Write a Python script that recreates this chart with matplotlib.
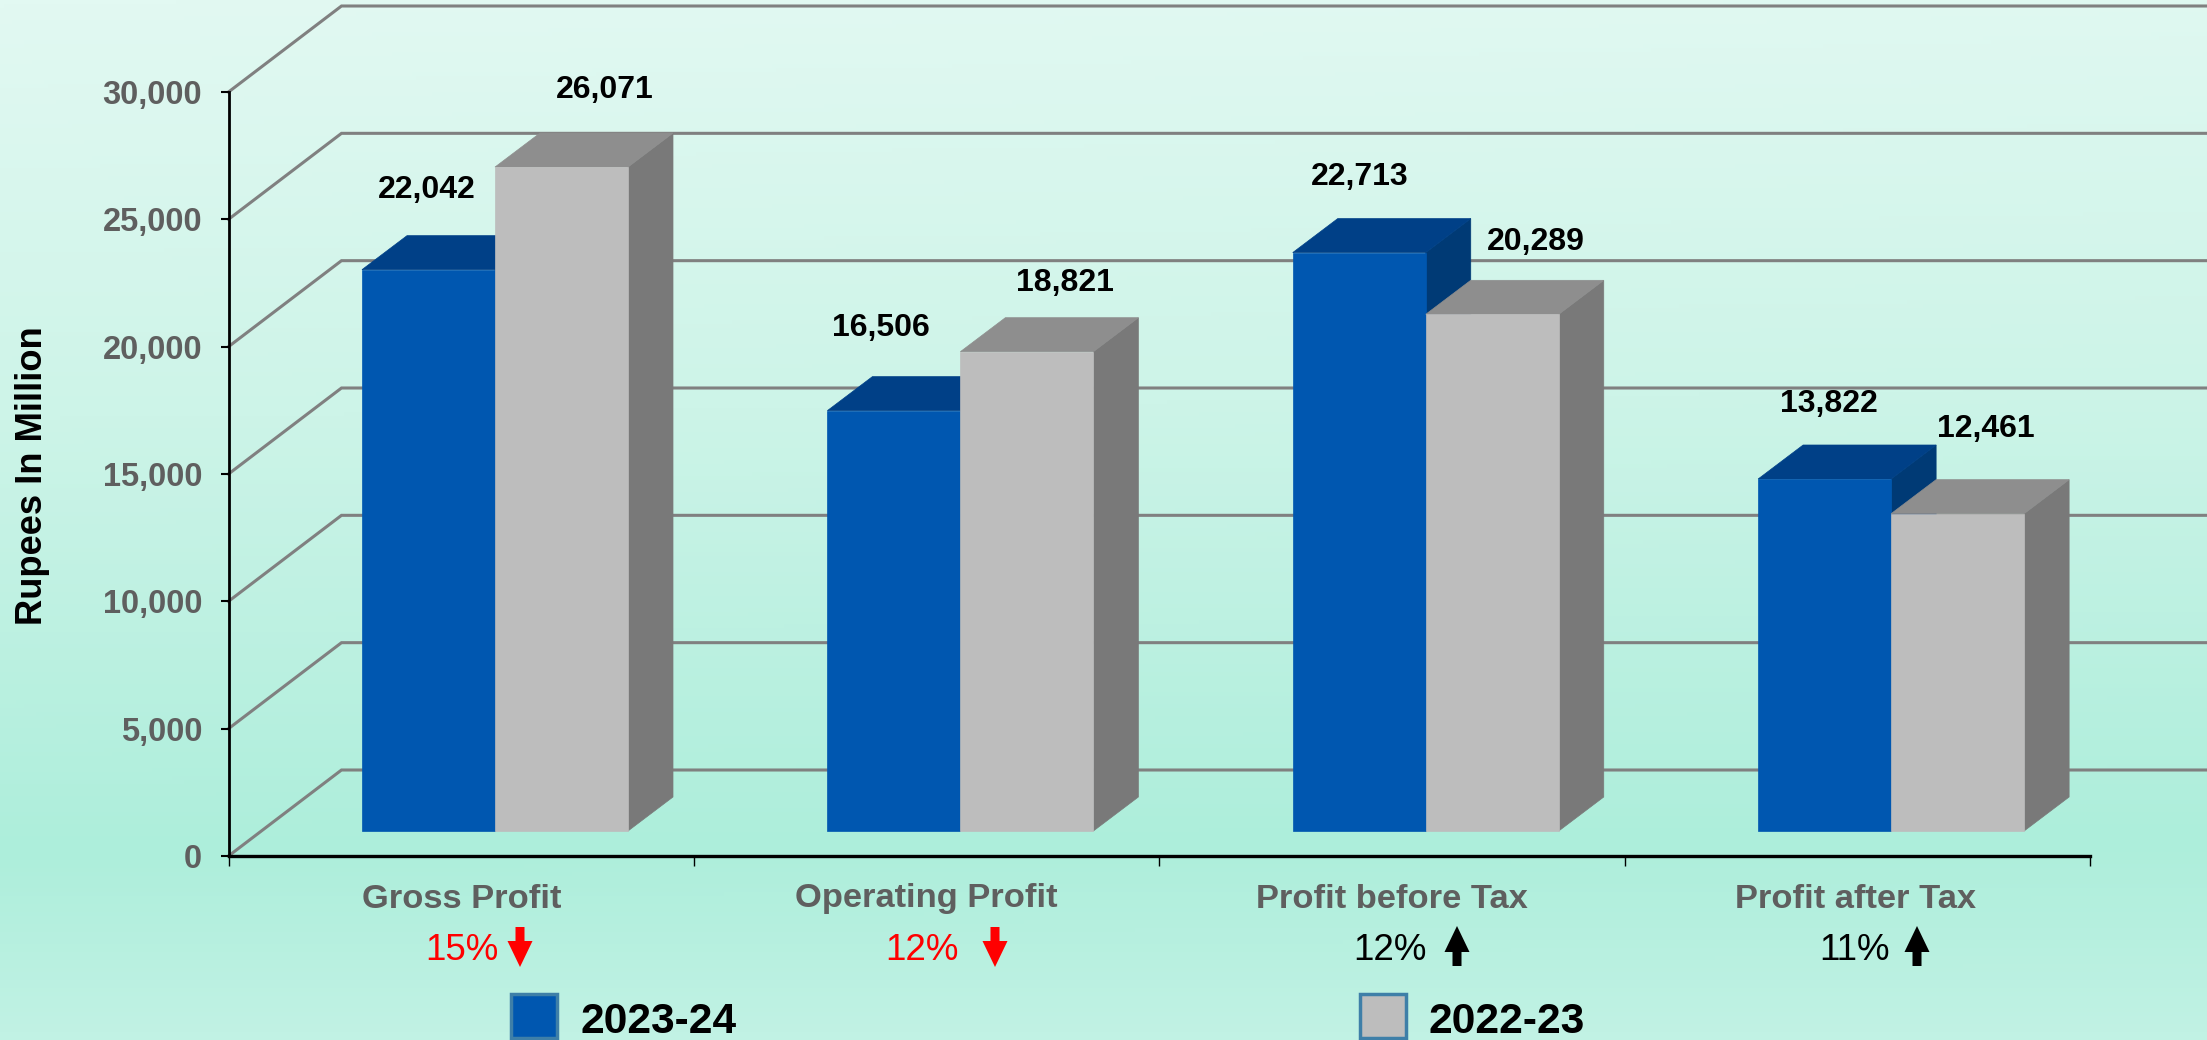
import numpy as np
import matplotlib
matplotlib.use('Agg')
import matplotlib.pyplot as plt
from matplotlib.patches import Polygon, Rectangle, FancyArrow
from matplotlib.colors import LinearSegmentedColormap

categories = ['Gross Profit', 'Operating Profit', 'Profit before Tax', 'Profit after Tax']
values_2324 = [22042, 16506, 22713, 13822]
values_2223 = [26071, 18821, 20289, 12461]
labels_2324 = ['22,042', '16,506', '22,713', '13,822']
labels_2223 = ['26,071', '18,821', '20,289', '12,461']
changes = ['15%', '12%', '12%', '11%']
change_dirs = ['down', 'down', 'up', 'up']
series_names = ['2023-24', '2022-23']
y_ticks = [0, 5000, 10000, 15000, 20000, 25000, 30000]
y_tick_labels = ['0', '5,000', '10,000', '15,000', '20,000', '25,000', '30,000']

W, H = 2207, 1040
plt.rcParams['font.family'] = ['Liberation Sans', 'DejaVu Sans']

fig = plt.figure(figsize=(W / 100, H / 100), dpi=100)

# background gradient
bg = fig.add_axes([0, 0, 1, 1])
bg.axis('off')
yy, xx = np.mgrid[0:1:260j, 0:1:552j]
t = np.clip(yy + 0.05 * xx * (1 - yy), 0, 1)
cmap = LinearSegmentedColormap.from_list('bg', [(0, '#E2F9F2'), (0.4, '#CDF4E8'), (0.82, '#ADEEDB'), (1, '#C1F2E4')])
bg.imshow(t, cmap=cmap, aspect='auto', extent=[0, 1, 0, 1], origin='upper', vmin=0, vmax=1)
bg.set_xlim(0, 1)
bg.set_ylim(0, 1)

# main axes, x is the category index
left, right, bottom, top = 228.5, 2090, 856, 92
ax = fig.add_axes([left / W, 1 - bottom / H, (right - left) / W, (bottom - top) / H])
ax.set_xlim(0, 4)
ax.set_ylim(0, 30000)
ax.patch.set_alpha(0)
for s in ['top', 'right']:
    ax.spines[s].set_visible(False)
ax.spines['left'].set_linewidth(2)
ax.spines['bottom'].set_linewidth(2.4)

px_x = 4 / (right - left)
px_y = 30000 / (bottom - top)

# depth of the wall and of the bars
wall_dx, wall_dy = 113 * px_x, 86 * px_y
floor_dx, floor_dy = 33 * px_x, 25 * px_y
bar_dx, bar_dy = 45 * px_x, 34 * px_y
end_x = (W - left) * px_x

for v in y_ticks:
    ax.plot([0, wall_dx, end_x], [v, v + wall_dy, v + wall_dy], color='#808080', lw=2.2,
            clip_on=False, zorder=1, solid_joinstyle='miter')

bar_w = 133 * px_x
first_off = (362 - left) * px_x


def draw_bar(x, v, front, tops, side, z):
    y0 = floor_dy
    y1 = floor_dy + v
    ax.add_patch(Polygon([(x + bar_w, y0), (x + bar_w + bar_dx, y0 + bar_dy),
                          (x + bar_w + bar_dx, y1 + bar_dy), (x + bar_w, y1)],
                         closed=True, fc=side, ec=side, lw=0.5, zorder=z))
    ax.add_patch(Polygon([(x, y1), (x + bar_dx, y1 + bar_dy),
                          (x + bar_w + bar_dx, y1 + bar_dy), (x + bar_w, y1)],
                         closed=True, fc=tops, ec=tops, lw=0.5, zorder=z))
    ax.add_patch(Rectangle((x, y0), bar_w, v, fc=front, ec=front, lw=0.5, zorder=z + 0.1))


for i in range(4):
    x = i + first_off
    draw_bar(x, values_2324[i], '#0057B0', '#004087', '#003A75', 3 + i)
    draw_bar(x + bar_w, values_2223[i], '#BDBDBD', '#8E8E8E', '#797979', 3.5 + i)

# value labels, offset from the top of each bar in pixels
offs_2324 = [(-2, 80), (-13, 83), (0, 76), (4, 75)]
offs_2223 = [(43, 77), (38, 69), (44, 72), (28, 85)]
for i in range(4):
    x = i + first_off
    ax.annotate(labels_2324[i], (x + bar_w / 2, floor_dy + values_2324[i]), xytext=offs_2324[i],
                textcoords='offset pixels', ha='center', va='center', fontsize=23,
                fontweight='bold', color='black', zorder=20)
    ax.annotate(labels_2223[i], (x + bar_w * 1.5, floor_dy + values_2223[i]), xytext=offs_2223[i],
                textcoords='offset pixels', ha='center', va='center', fontsize=23,
                fontweight='bold', color='black', zorder=20)

ax.set_yticks(y_ticks)
ax.set_yticklabels(y_tick_labels, fontsize=23.5, fontweight='bold', color='#5F5F5F')
ax.set_xticks(range(5))
ax.set_xticklabels([])
ax.tick_params(axis='y', length=6, width=1.5, pad=13)
ax.tick_params(axis='x', length=7, width=1.0)


def fx(px):
    return px / W


def fy(px):
    return 1 - px / H


centers = [461.5, 926, 1392, 1856]
for c, name in zip(centers, categories):
    fig.text(fx(c), fy(899), name, ha='center', va='center', fontsize=24.8, fontweight='bold', color='#5F5F5F')

fig.text(fx(33), fy(476), 'Rupees In Million', rotation=90, ha='center', va='center',
         fontsize=26.2, fontweight='bold', color='black')

# change under each category
change_x = [462, 922, 1390, 1855]
arrow_x = [520, 995, 1457, 1917]
for i in range(4):
    col = 'red' if change_dirs[i] == 'down' else 'black'
    fig.text(fx(change_x[i]), fy(950), changes[i], ha='center', va='center', fontsize=26.5, color=col)
    if change_dirs[i] == 'down':
        y_start, y_end = 927, 967
    else:
        y_start, y_end = 966, 926
    bg.add_patch(FancyArrow(arrow_x[i] / W, 1 - y_start / H, 0, (y_start - y_end) / H,
                            width=9 / W, head_width=25 / W, head_length=26 / H,
                            length_includes_head=True, fc=col, ec=col, lw=0, zorder=5))

# legend
bg.add_patch(Rectangle((511 / W, 1 - 1038 / H), 46 / W, 44 / H, fc='#0057B0', ec='#3E7FA8', lw=2.5, zorder=5))
bg.add_patch(Rectangle((1360 / W, 1 - 1038 / H), 46 / W, 44 / H, fc='#BDBDBD', ec='#3E7FA8', lw=2.5, zorder=5))
fig.text(fx(580), fy(1022), series_names[0], ha='left', va='center', fontsize=30.6, fontweight='bold', color='black')
fig.text(fx(1429), fy(1022), series_names[1], ha='left', va='center', fontsize=30.6, fontweight='bold', color='black')

fig.savefig('out.png', dpi=100)
